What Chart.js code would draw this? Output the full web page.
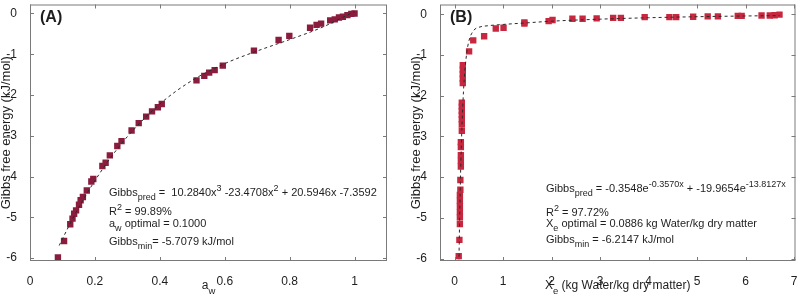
<!DOCTYPE html>
<html lang="en">
<head>
  <meta charset="UTF-8" />
  <title>Gibbs free energy</title>
  <script src="https://cdn.jsdelivr.net/npm/chart.js"></script>
  <style>
    * { box-sizing: border-box; }
    body { margin: 0; background: #fff; width: 800px; height: 298px; overflow: hidden; position: relative; }
    canvas { position: absolute; top: 0; }
    #chartA { left: 0; }
    #chartB { left: 400px; }
  </style>
</head>
<body>
  <canvas id="chartA" width="400" height="298"></canvas>
  <canvas id="chartB" width="400" height="298"></canvas>

  <script>
    // (A) Gibbs free energy vs water activity
    const awPoints = [0.086, 0.105, 0.124, 0.131, 0.136, 0.142, 0.151, 0.156, 0.163, 0.175, 0.189, 0.195,
      0.223, 0.233, 0.246, 0.269, 0.282, 0.313, 0.335, 0.358, 0.376, 0.394, 0.406, 0.513, 0.537, 0.552,
      0.569, 0.594, 0.690, 0.766, 0.799, 0.863, 0.883, 0.897, 0.925, 0.939, 0.952, 0.964, 0.978, 0.990, 1.000];
    const gibbsA = [-5.98, -5.58, -5.17, -5.03, -4.91, -4.83, -4.69, -4.58, -4.50, -4.34, -4.12, -4.06,
      -3.74, -3.66, -3.48, -3.25, -3.13, -2.87, -2.69, -2.53, -2.40, -2.30, -2.22, -1.64, -1.53, -1.45,
      -1.39, -1.28, -0.91, -0.65, -0.55, -0.35, -0.28, -0.25, -0.17, -0.145, -0.10, -0.08, -0.04, -0.01, 0.0];
    const awFit = [0.09, 0.12, 0.15, 0.2, 0.25, 0.3, 0.4, 0.5, 0.6, 0.7, 0.8, 0.9, 1.0];
    const gibbsFitA = [-5.69, -5.21, -4.76, -4.10, -3.52, -3.02, -2.22, -1.64, -1.23, -0.92, -0.64, -0.34, 0.05];
    const awTicks = [0, 0.2, 0.4, 0.6, 0.8, 1];

    // (B) Gibbs free energy vs equilibrium moisture content
    const xePoints = [0.086, 0.10, 0.11, 0.11, 0.11, 0.11, 0.11, 0.11, 0.12, 0.12, 0.13, 0.13, 0.13, 0.13, 0.13,
      0.15, 0.15, 0.15, 0.15, 0.15, 0.15, 0.15, 0.17, 0.17, 0.17, 0.17, 0.17, 0.30, 0.385, 0.61, 0.85, 1.01,
      1.44, 1.44, 1.94, 2.02, 2.43, 2.64, 2.93, 3.27, 3.43, 3.92, 4.43, 4.57, 4.92, 5.22, 5.43, 5.84, 5.92,
      6.33, 6.50, 6.60, 6.70];
    const gibbsB = [-5.94, -5.54, -5.15, -4.99, -4.86, -4.72, -4.58, -4.44, -4.31, -4.07, -3.74, -3.60, -3.46, -3.26, -3.14,
      -2.86, -2.70, -2.58, -2.47, -2.37, -2.27, -2.17, -1.69, -1.58, -1.47, -1.36, -1.25, -0.91, -0.64, -0.54, -0.35, -0.33,
      -0.23, -0.20, -0.17, -0.14, -0.11, -0.11, -0.10, -0.09, -0.09, -0.07, -0.07, -0.07, -0.06, -0.05, -0.05, -0.04, -0.04,
      -0.03, -0.03, -0.024, -0.01];
    const xeFit = [0.09, 0.10, 0.11, 0.12, 0.13, 0.15, 0.17, 0.2, 0.25, 0.3, 0.4, 0.5, 0.7, 1, 1.5, 2, 3, 4, 5, 6, 6.7];
    const gibbsFitB = [-6.10, -5.36, -4.71, -4.14, -3.65, -2.85, -2.24, -1.59, -0.96, -0.64, -0.39, -0.32, -0.28,
      -0.25, -0.21, -0.17, -0.12, -0.085, -0.06, -0.042, -0.033];
    const xeTicks = [0, 1, 2, 3, 4, 5, 6, 7];

    const gibbsTicks = [0, -1, -2, -3, -4, -5, -6];

    const FONT = '"Liberation Sans", Arial, sans-serif';
    const FRAME = "#7a7a7a";
    const TEXT = "#1e1e1e";
    const NOTE_SIZE = 11;
    const SMALL_SIZE = 9;

    // rich text: [text, 'n' | 'sub' | 'sup']
    function drawRich(ctx, x, y, parts, size, small) {
      let cx = x;
      for (const [t, m] of parts) {
        ctx.font = (m === "n" ? size : small) + "px " + FONT;
        const dy = m === "sub" ? size * 0.38 : m === "sup" ? -size * 0.45 : 0;
        ctx.fillText(t, cx, y + dy);
        cx += ctx.measureText(t).width;
      }
      return cx - x;
    }

    function richWidth(ctx, parts, size, small) {
      let w = 0;
      for (const [t, m] of parts) {
        ctx.font = (m === "n" ? size : small) + "px " + FONT;
        w += ctx.measureText(t).width;
      }
      return w;
    }

    // frame, inward ticks, panel letter, x title with subscript, fit annotations
    const decorPlugin = {
      id: "decor",
      afterDraw(chart, args, opts) {
        const ctx = chart.ctx;
        const { left, right, top, bottom } = chart.chartArea;
        const xs = chart.scales.x, ys = chart.scales.y;
        ctx.save();
        ctx.strokeStyle = FRAME;
        ctx.lineWidth = 1;
        ctx.strokeRect(left + 0.5, top + 0.5, right - left - 1, bottom - top - 1);
        ctx.beginPath();
        for (const t of xs.ticks) {
          const px = Math.round(xs.getPixelForValue(t.value)) + 0.5;
          ctx.moveTo(px, bottom); ctx.lineTo(px, bottom - 4);
          ctx.moveTo(px, top); ctx.lineTo(px, top + 4);
        }
        for (const t of ys.ticks) {
          const py = Math.round(ys.getPixelForValue(t.value)) + 0.5;
          ctx.moveTo(left, py); ctx.lineTo(left + 4, py);
          ctx.moveTo(right, py); ctx.lineTo(right - 4, py);
        }
        ctx.stroke();

        ctx.fillStyle = TEXT;
        ctx.textBaseline = "alphabetic";
        ctx.textAlign = "left";
        ctx.font = "bold 16px " + FONT;
        ctx.fillText(opts.letter, left + opts.letterDx, 22);

        // x axis title, centred on the plot area
        const w = richWidth(ctx, opts.xTitle, 12, 9.5);
        drawRich(ctx, (left + right) / 2 - w / 2, 289, opts.xTitle, 12, 9.5);

        opts.notes.forEach((line, i) => {
          drawRich(ctx, opts.noteX, opts.noteY[i], line, NOTE_SIZE, SMALL_SIZE);
        });
        ctx.restore();
      }
    };

    function makeChart(id, cfg) {
      const ctx = document.getElementById(id).getContext("2d");
      return new Chart(ctx, {
        type: "scatter",
        data: {
          datasets: [
            {
              type: "line",
              data: cfg.fitX.map((x, i) => ({ x, y: cfg.fitY[i] })),
              borderColor: "#2a2a2a",
              borderWidth: 1,
              borderDash: [3, 3],
              pointRadius: 0,
              fill: false,
              cubicInterpolationMode: "monotone"
            },
            {
              data: cfg.px.map((x, i) => ({ x, y: cfg.py[i] })),
              pointStyle: "rect",
              pointRadius: 4.5,
              borderWidth: 0,
              backgroundColor: cfg.color,
              borderColor: cfg.color
            }
          ]
        },
        options: {
          responsive: false,
          animation: false,
          devicePixelRatio: 1,
          layout: { padding: { top: 0, left: 0, right: cfg.padRight, bottom: 0 } },
          plugins: {
            legend: { display: false },
            tooltip: { enabled: false },
            decor: cfg.decor
          },
          scales: {
            x: {
              type: "linear",
              min: cfg.xMin,
              max: cfg.xMax,
              grid: { display: false },
              border: { display: false },
              afterBuildTicks: s => { s.ticks = cfg.xTicks.map(v => ({ value: v })); },
              afterFit: s => { s.height = 37; s.paddingLeft = 0; s.paddingRight = 0; },
              ticks: {
                padding: 5,
                color: TEXT,
                font: { family: FONT, size: 12 },
                maxRotation: 0,
                autoSkip: false,
                callback: v => String(v)
              }
            },
            y: {
              type: "linear",
              min: cfg.yMin,
              max: cfg.yMax,
              grid: { display: false },
              border: { display: false },
              afterBuildTicks: s => { s.ticks = gibbsTicks.map(v => ({ value: v })); },
              afterFit: s => { s.width = cfg.yWidth; s.paddingTop = 0; s.paddingBottom = 0; },
              ticks: {
                padding: 5,
                color: TEXT,
                font: { family: FONT, size: 12 },
                autoSkip: false,
                callback: v => String(v)
              },
              title: {
                display: true,
                text: "Gibbs free energy (kJ/mol)",
                color: TEXT,
                font: { family: FONT, size: 13, lineHeight: 1 },
                padding: { top: cfg.yTitlePad, bottom: 0 }
              }
            }
          }
        },
        plugins: [decorPlugin]
      });
    }

    makeChart("chartA", {
      px: awPoints, py: gibbsA, fitX: awFit, fitY: gibbsFitA,
      color: "#8a1c3e",
      xMin: 0, xMax: 1.1, yMin: -6.07, yMax: 0.22,
      xTicks: awTicks, yWidth: 30, padRight: 13, yTitlePad: 0,
      decor: {
        letter: "(A)", letterDx: 10,
        xTitle: [["a", "n"], ["w", "sub"]],
        noteX: 109,
        noteY: [196, 215, 227, 245],
        notes: [
          [["Gibbs", "n"], ["pred", "sub"], [" =  10.2840x", "n"], ["3", "sup"], [" -23.4708x", "n"], ["2", "sup"], [" + 20.5946x -7.3592", "n"]],
          [["R", "n"], ["2", "sup"], [" = 99.89%", "n"]],
          [["a", "n"], ["w", "sub"], [" optimal = 0.1000", "n"]],
          [["Gibbs", "n"], ["min", "sub"], ["= -5.7079 kJ/mol", "n"]]
        ]
      }
    });

    makeChart("chartB", {
      px: xePoints, py: gibbsB, fitX: xeFit, fitY: gibbsFitB,
      color: "#c8283f",
      xMin: -0.3, xMax: 7.03, yMin: -6.06, yMax: 0.24,
      xTicks: xeTicks, yWidth: 40, padRight: 3, yTitlePad: 10,
      decor: {
        letter: "(B)", letterDx: 10,
        xTitle: [["X", "n"], ["e", "sub"], [" (kg Water/kg dry matter)", "n"]],
        noteX: 146,
        noteY: [192, 216, 227, 243],
        notes: [
          [["Gibbs", "n"], ["pred", "sub"], [" = -0.3548e", "n"], ["-0.3570x", "sup"], [" + -19.9654e", "n"], ["-13.8127x", "sup"]],
          [["R", "n"], ["2", "sup"], [" = 97.72%", "n"]],
          [["X", "n"], ["e", "sub"], [" optimal = 0.0886 kg Water/kg dry matter", "n"]],
          [["Gibbs", "n"], ["min", "sub"], [" = -6.2147 kJ/mol", "n"]]
        ]
      }
    });
  </script>
</body>
</html>
